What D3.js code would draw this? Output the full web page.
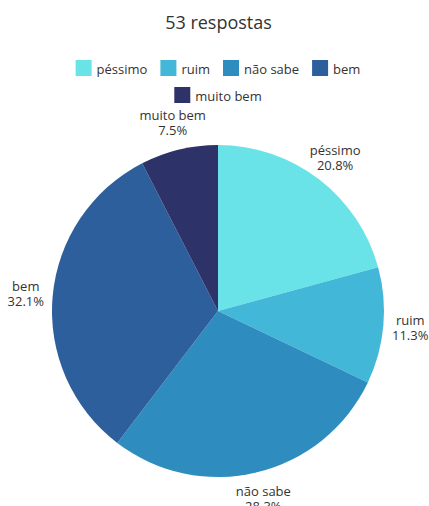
<!DOCTYPE html>
<html>
<head>
<meta charset="utf-8">
<script src="https://cdn.jsdelivr.net/npm/d3@7"></script>
<style>
  body { margin: 0; background: #fff; }
  text { font-family: "Open Sans", sans-serif; fill: #333; }
</style>
</head>
<body>
<div class="board"></div>
<script>
var width = 429,
    height = 506

CATEGORIES = ["péssimo", "ruim", "não sabe", "bem", "muito bem"]
COUNTS = [11, 6, 15, 17, 4]
PERCENTS = ["20.8%", "11.3%", "28.3%", "32.1%", "7.5%"]
COLORS = ["#6ae3e8", "#43b7d8", "#2e8cbf", "#2c5f9b", "#2d3269"]
TITLE = "53 respostas"

CX = 218
CY = 311
RADIUS = 166
LABEL_RADIUS = 193

LEGEND_UNIT_SIZE = 16
LEGEND_GAP = 5
LEGEND_SPACING = 13

var svg = d3.select(".board")
    .append("svg")
    .attr("width", width)
    .attr("height", height)

svg.append("text")
    .attr("x", width / 2 + 4)
    .attr("y", 29)
    .attr("text-anchor", "middle")
    .style("font-size", "18px")
    .text(TITLE)

let color = d3.scaleOrdinal()
    .domain(CATEGORIES)
    .range(COLORS)

let pie = d3.pie()
    .sort(null)
    .value((d, i) => COUNTS[i])

let arc = d3.arc()
    .innerRadius(0)
    .outerRadius(RADIUS)

let labelArc = d3.arc()
    .innerRadius(LABEL_RADIUS)
    .outerRadius(LABEL_RADIUS)

let arcs = pie(CATEGORIES)

let g = svg.append("g")
    .attr("transform", `translate(${CX}, ${CY})`)

g.selectAll(".slice")
    .data(arcs)
    .enter()
    .append("path")
    .classed("slice", true)
    .attr("fill", d => color(d.data))
    .attr("d", arc)

let labels = g.selectAll(".sliceLabel")
    .data(arcs)
    .enter()
    .append("text")
    .classed("sliceLabel", true)
    .attr("text-anchor", "middle")
    .style("font-size", "13px")
    .attr("transform", d => `translate(${labelArc.centroid(d)})`)

labels.append("tspan")
    .attr("x", 0)
    .attr("y", -3)
    .text(d => d.data)

labels.append("tspan")
    .attr("x", 0)
    .attr("y", 12)
    .text(d => PERCENTS[d.index])

// legend, two centered rows
function addLegend() {
    let rows = [CATEGORIES.slice(0, 4), CATEGORIES.slice(4)]
    rows.forEach((row, r) => {
        let lg = svg.append("g")
        let x = 0
        row.forEach(name => {
            let item = lg.append("g").attr("transform", `translate(${x}, 0)`)
            item.append("rect")
                .attr("fill", color(name))
                .attr("x", 0)
                .attr("y", 0)
                .attr("width", LEGEND_UNIT_SIZE)
                .attr("height", LEGEND_UNIT_SIZE)
            let t = item.append("text")
                .attr("x", LEGEND_UNIT_SIZE + LEGEND_GAP)
                .attr("y", 14)
                .style("font-size", "13px")
                .text(name)
            x += LEGEND_UNIT_SIZE + LEGEND_GAP + t.node().getComputedTextLength() + LEGEND_SPACING
        })
        let total = x - LEGEND_SPACING
        lg.attr("transform", `translate(${CX - total / 2}, ${60 + r * 27})`)
    })
}

addLegend()
</script>
</body>
</html>
